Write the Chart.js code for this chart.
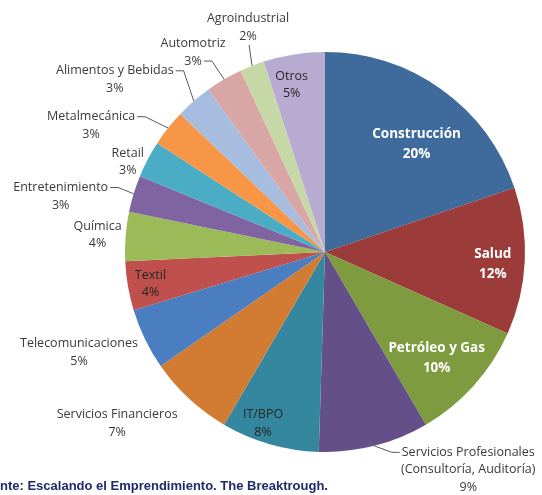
<!DOCTYPE html>
<html>
<head>
<meta charset="utf-8">
<script src="https://cdn.jsdelivr.net/npm/chart.js@4.4.1/dist/chart.umd.min.js"></script>
<style>
  html, body { margin: 0; padding: 0; background: #ffffff; }
  #wrap { width: 542px; height: 495px; position: relative; }
</style>
</head>
<body>
<div id="wrap"><canvas id="pie" width="542" height="495"></canvas></div>
<script>
// Sectors, clockwise from 12 o'clock
const categories = [
  'Construcción', 'Salud', 'Petróleo y Gas', 'Servicios Profesionales (Consultoría, Auditoría)',
  'IT/BPO', 'Servicios Financieros', 'Telecomunicaciones', 'Textil', 'Química',
  'Entretenimiento', 'Retail', 'Metalmecánica', 'Alimentos y Bebidas', 'Automotriz',
  'Agroindustrial', 'Otros'
];
// Share of companies by sector (%)
const shares = [20, 12, 10, 9, 8, 7, 5, 4, 4, 3, 3, 3, 3, 3, 2, 5];
const sliceColors = [
  '#3e6a9c', '#9c3c3a', '#7f9b3f', '#654f88', '#34879e', '#d17b33', '#4a7ec1', '#c0504d',
  '#9bbb59', '#8064a2', '#4bacc6', '#f79646', '#a6bddf', '#d8a6a5', '#c7d8a7', '#b8abd1'
];
const source = 'Fuente: Escalando el Emprendimiento. The Breaktrough.';

// Label text lines (names broken where they wrap)
const nameLines = categories.map(c =>
  c === 'Servicios Profesionales (Consultoría, Auditoría)'
    ? ['Servicios Profesionales', '(Consultoría, Auditoría)'] : [c]);

// Label placement: anchor at k * radius along the slice's mid angle, then nudged
const labelLayout = [
  { k: 0.70, dx: 10, dy: 6, style: 'white' },
  { k: 0.85, dx: -2, dy: 4, style: 'white' },
  { k: 0.75, dx: 0, dy: 6, style: 'white' },
  { k: 1.0, dx: 94, dy: 24, style: 'out', leader: { line: 0, side: 'left' } },
  { k: 0.85, dx: -15, dy: 8, style: 'dark' },
  { k: 1.0, dx: -72, dy: 24.5, style: 'out' },
  { k: 1.0, dx: -66, dy: 13.5, style: 'out' },
  { k: 0.85, dx: -7, dy: 3, style: 'dark' },
  { k: 1.0, dx: -28, dy: -1.5, style: 'out' },
  { k: 1.0, dx: -73, dy: 2.5, style: 'out', leader: { line: 0, side: 'right' } },
  { k: 1.0, dx: -20, dy: 2.5, style: 'out' },
  { k: 1.0, dx: -77, dy: -2.5, style: 'out', leader: { line: 0, side: 'right' } },
  { k: 1.0, dx: -79, dy: -21.5, style: 'out', leader: { line: 0, side: 'right' } },
  { k: 1.0, dx: -31, dy: -27, style: 'out', leader: { line: 1, side: 'right' } },
  { k: 1.0, dx: -4, dy: -38.5, style: 'out', leader: { side: 'bottom' } },
  { k: 0.85, dx: -7, dy: 1, style: 'dark' }
];

const FONT = '"Open Sans", "Noto Sans", sans-serif';
const LINE_H = 17.5;

const sliceLabels = {
  id: 'sliceLabels',
  afterDatasetsDraw(chart) {
    const ctx = chart.ctx;
    const meta = chart.getDatasetMeta(0);
    const values = chart.data.datasets[0].data;
    meta.data.forEach((arc, i) => {
      const p = arc.getProps(['x', 'y', 'startAngle', 'endAngle', 'outerRadius'], true);
      const mid = (p.startAngle + p.endAngle) / 2;
      const L = labelLayout[i];
      const cx = p.x + Math.cos(mid) * p.outerRadius * L.k + L.dx;
      const cy = p.y + Math.sin(mid) * p.outerRadius * L.k + L.dy;
      const lines = nameLines[i].concat([values[i] + '%']);
      const lh = L.style === 'white' ? 19.5 : LINE_H;
      const top = cy - (lines.length - 1) * lh / 2;

      ctx.save();
      if (L.style === 'white') {
        ctx.font = 'bold 13.5px ' + FONT;
        ctx.fillStyle = '#ffffff';
      } else if (L.style === 'dark') {
        ctx.font = '12.5px ' + FONT;
        ctx.fillStyle = '#262626';
      } else {
        ctx.font = '12.5px ' + FONT;
        ctx.fillStyle = '#3a3a3a';
      }
      ctx.textAlign = 'center';
      ctx.textBaseline = 'middle';
      lines.forEach((t, j) => ctx.fillText(t, cx, top + j * lh));

      if (L.leader) {
        const ex = p.x + Math.cos(mid) * p.outerRadius;
        const ey = p.y + Math.sin(mid) * p.outerRadius;
        ctx.strokeStyle = '#595959';
        ctx.lineWidth = 1;
        ctx.beginPath();
        if (L.leader.side === 'bottom') {
          ctx.moveTo(cx + 1, top + (lines.length - 1) * lh + 9);
          ctx.lineTo(ex, ey);
        } else {
          const ly = top + L.leader.line * lh;
          const w = ctx.measureText(lines[L.leader.line]).width;
          const dir = L.leader.side === 'right' ? 1 : -1;
          const sx = cx + dir * (w / 2 + 2);
          ctx.moveTo(sx, ly);
          ctx.lineTo(sx + dir * 8, ly);
          ctx.lineTo(ex, ey);
        }
        ctx.stroke();
      }
      ctx.restore();
    });

    // Source line along the bottom edge
    ctx.save();
    ctx.font = 'bold 13px "Liberation Sans", Arial, sans-serif';
    ctx.fillStyle = '#1f2a6b';
    ctx.textAlign = 'left';
    ctx.textBaseline = 'middle';
    const hidden = ctx.measureText('Fue').width;
    ctx.fillText(source, -hidden, 486);
    ctx.restore();
  }
};

new Chart(document.getElementById('pie'), {
  type: 'pie',
  data: {
    labels: categories,
    datasets: [{
      data: shares,
      backgroundColor: sliceColors,
      borderWidth: 0
    }]
  },
  options: {
    responsive: false,
    animation: false,
    layout: { padding: { left: 125, right: 17, top: 52, bottom: 43 } },
    plugins: {
      legend: { display: false },
      tooltip: { enabled: false }
    }
  },
  plugins: [sliceLabels]
});
</script>
</body>
</html>
